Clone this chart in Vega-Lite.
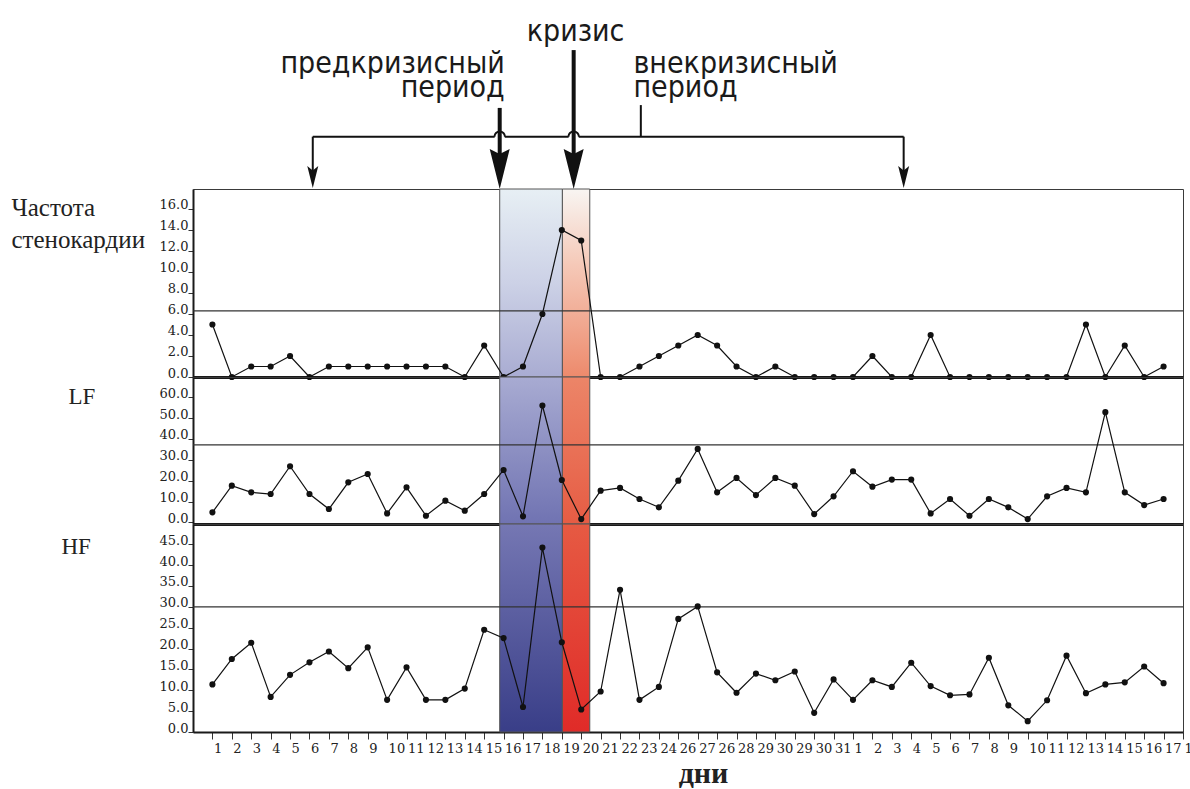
{
  "$schema": "https://vega.github.io/schema/vega-lite/v6.json",
  "background": "#ffffff",
  "padding": {"left": 10, "top": 0, "right": 0, "bottom": 0},
  "spacing": 0,
  "bounds": "flush",
  "config": {
    "view": {"stroke": "#3a3a3a", "strokeWidth": 1},
    "axis": {
      "grid": false,
      "labelFont": "DejaVu Serif",
      "labelFontSize": 13,
      "labelColor": "#222222",
      "labelOverlap": false,
      "labelFlush": false,
      "tickColor": "#333333",
      "tickWidth": 1,
      "domainColor": "#1a1a1a",
      "titleColor": "#222222",
      "zindex": 1
    }
  },
  "datasets": {
    "series": [
      {"i": 1, "chd": 5, "lf": 4.8, "hf": 11.4},
      {"i": 2, "chd": 0, "lf": 17.6, "hf": 17.5},
      {"i": 3, "chd": 1, "lf": 14.4, "hf": 21.4},
      {"i": 4, "chd": 1, "lf": 13.6, "hf": 8.4},
      {"i": 5, "chd": 2, "lf": 26.9, "hf": 13.7},
      {"i": 6, "chd": 0, "lf": 13.6, "hf": 16.7},
      {"i": 7, "chd": 1, "lf": 6.4, "hf": 19.3},
      {"i": 8, "chd": 1, "lf": 19.2, "hf": 15.3},
      {"i": 9, "chd": 1, "lf": 23.2, "hf": 20.3},
      {"i": 10, "chd": 1, "lf": 4.3, "hf": 7.7},
      {"i": 11, "chd": 1, "lf": 16.8, "hf": 15.5},
      {"i": 12, "chd": 1, "lf": 3.2, "hf": 7.7},
      {"i": 13, "chd": 1, "lf": 10.4, "hf": 7.7},
      {"i": 14, "chd": 0, "lf": 5.6, "hf": 10.4},
      {"i": 15, "chd": 3, "lf": 13.6, "hf": 24.5},
      {"i": 16, "chd": 0, "lf": 25.1, "hf": 22.5},
      {"i": 17, "chd": 1, "lf": 2.9, "hf": 6.0},
      {"i": 18, "chd": 6, "lf": 56.0, "hf": 44.2},
      {"i": 19, "chd": 14, "lf": 20.3, "hf": 21.5},
      {"i": 20, "chd": 13, "lf": 1.6, "hf": 5.4},
      {"i": 21, "chd": 0, "lf": 15.2, "hf": 9.7},
      {"i": 22, "chd": 0, "lf": 16.5, "hf": 34.1},
      {"i": 23, "chd": 1, "lf": 11.2, "hf": 7.7},
      {"i": 24, "chd": 2, "lf": 7.2, "hf": 10.8},
      {"i": 25, "chd": 3, "lf": 20.0, "hf": 27.1},
      {"i": 26, "chd": 4, "lf": 35.2, "hf": 30.1},
      {"i": 27, "chd": 3, "lf": 14.4, "hf": 14.3},
      {"i": 28, "chd": 1, "lf": 21.3, "hf": 9.4},
      {"i": 29, "chd": 0, "lf": 13.1, "hf": 14.0},
      {"i": 30, "chd": 1, "lf": 21.3, "hf": 12.4},
      {"i": 31, "chd": 0, "lf": 17.6, "hf": 14.5},
      {"i": 32, "chd": 0, "lf": 4.0, "hf": 4.6},
      {"i": 33, "chd": 0, "lf": 12.5, "hf": 12.6},
      {"i": 34, "chd": 0, "lf": 24.5, "hf": 7.7},
      {"i": 35, "chd": 2, "lf": 17.1, "hf": 12.4},
      {"i": 36, "chd": 0, "lf": 20.5, "hf": 10.8},
      {"i": 37, "chd": 0, "lf": 20.5, "hf": 16.6},
      {"i": 38, "chd": 4, "lf": 4.3, "hf": 11.0},
      {"i": 39, "chd": 0, "lf": 11.2, "hf": 8.8},
      {"i": 40, "chd": 0, "lf": 3.2, "hf": 9.0},
      {"i": 41, "chd": 0, "lf": 11.2, "hf": 17.8},
      {"i": 42, "chd": 0, "lf": 7.2, "hf": 6.4},
      {"i": 43, "chd": 0, "lf": 1.6, "hf": 2.6},
      {"i": 44, "chd": 0, "lf": 12.5, "hf": 7.6},
      {"i": 45, "chd": 0, "lf": 16.5, "hf": 18.3},
      {"i": 46, "chd": 5, "lf": 14.4, "hf": 9.3},
      {"i": 47, "chd": 0, "lf": 52.8, "hf": 11.4},
      {"i": 48, "chd": 3, "lf": 14.4, "hf": 11.9},
      {"i": 49, "chd": 0, "lf": 8.3, "hf": 15.7},
      {"i": 50, "chd": 1, "lf": 11.2, "hf": 11.7}
    ],
    "limits": [{"chd": 6.3, "lf": 37.1, "hf": 30.0}],
    "phases": [
      {"phase": "pre", "x0": 15.8, "x1": 19.03},
      {"phase": "crisis", "x0": 19.03, "x1": 20.44}
    ],
    "links": [
      {"part": "bracket", "x": 6.17, "x2": 15.54, "y": 27.7, "y2": 27.7},
      {"part": "bracket", "x": 16.06, "x2": 19.35, "y": 27.7, "y2": 27.7},
      {"part": "bracket", "x": 19.87, "x2": 36.61, "y": 27.7, "y2": 27.7},
      {"part": "bracket", "x": 6.17, "x2": 6.17, "y": 27.7, "y2": 9},
      {"part": "bracket", "x": 36.61, "x2": 36.61, "y": 27.7, "y2": 9},
      {"part": "bracket", "x": 23.07, "x2": 23.07, "y": 44.4, "y2": 27.7},
      {"part": "pointer", "x": 15.8, "x2": 15.8, "y": 42.9, "y2": 14},
      {"part": "pointer", "x": 19.61, "x2": 19.61, "y": 73.5, "y2": 14}
    ],
    "heads": [
      {"part": "bracket", "x": 6.17, "y": 6.3},
      {"part": "bracket", "x": 36.61, "y": 6.3},
      {"part": "pointer", "x": 15.8, "y": 10.6},
      {"part": "pointer", "x": 19.61, "y": 10.6}
    ],
    "hops": [
      {"x": 15.8, "y": 27.7},
      {"x": 19.61, "y": 27.7}
    ],
    "notes": [
      {"side": "crisis", "text": "кризис", "x": 19.71, "y": 78.5},
      {"side": "before", "text": "предкризисный", "x": 16.06, "y": 61.5},
      {"side": "before", "text": "период", "x": 16.06, "y": 48.5},
      {"side": "after", "text": "внекризисный", "x": 22.69, "y": 61.5},
      {"side": "after", "text": "период", "x": 22.69, "y": 48.5}
    ]
  },
  "vconcat": [
    {
      "width": 990,
      "height": 189,
      "view": {"stroke": null},
      "encoding": {
        "x": {"field": "x", "type": "quantitative", "scale": {"domain": [0, 51], "nice": false}, "axis": null},
        "y": {"field": "y", "type": "quantitative", "scale": {"domain": [0, 100], "nice": false}, "axis": null}
      },
      "layer": [
        {
          "data": {"name": "links"},
          "transform": [{"filter": "datum.part === 'bracket'"}],
          "mark": {"type": "rule", "color": "#111111", "strokeWidth": 2},
          "encoding": {"x2": {"field": "x2"}, "y2": {"field": "y2"}}
        },
        {
          "data": {"name": "links"},
          "transform": [{"filter": "datum.part === 'pointer'"}],
          "mark": {"type": "rule", "color": "#111111", "strokeWidth": 4},
          "encoding": {"x2": {"field": "x2"}, "y2": {"field": "y2"}}
        },
        {
          "data": {"name": "hops"},
          "mark": {"type": "point", "shape": "M-1,0A1,1,0,0,1,1,0", "filled": false, "size": 110, "color": "#111111", "strokeWidth": 2, "opacity": 1}
        },
        {
          "data": {"name": "heads"},
          "transform": [{"filter": "datum.part === 'bracket'"}],
          "mark": {"type": "point", "shape": "M0,1L-0.5,-1L0,-0.6L0.5,-1Z", "filled": true, "size": 484, "color": "#111111", "opacity": 1}
        },
        {
          "data": {"name": "heads"},
          "transform": [{"filter": "datum.part === 'pointer'"}],
          "mark": {"type": "point", "shape": "M0,1L-0.5,-1L0,-0.75L0.5,-1Z", "filled": true, "size": 1600, "color": "#111111", "opacity": 1}
        },
        {
          "data": {"name": "notes"},
          "transform": [{"filter": "datum.side === 'crisis'"}],
          "mark": {"type": "text", "align": "center", "baseline": "alphabetic", "font": "DejaVu Sans Condensed, DejaVu Sans, sans-serif", "fontSize": 30, "color": "#1a1a1a"},
          "encoding": {"text": {"field": "text"}}
        },
        {
          "data": {"name": "notes"},
          "transform": [{"filter": "datum.side === 'before'"}],
          "mark": {"type": "text", "align": "right", "baseline": "alphabetic", "font": "DejaVu Sans Condensed, DejaVu Sans, sans-serif", "fontSize": 30, "color": "#1a1a1a"},
          "encoding": {"text": {"field": "text"}}
        },
        {
          "data": {"name": "notes"},
          "transform": [{"filter": "datum.side === 'after'"}],
          "mark": {"type": "text", "align": "left", "baseline": "alphabetic", "font": "DejaVu Sans Condensed, DejaVu Sans, sans-serif", "fontSize": 30, "color": "#1a1a1a"},
          "encoding": {"text": {"field": "text"}}
        }
      ]
    },
    {
      "width": 990,
      "height": 188,
      "resolve": {"axis": {"x": "independent", "y": "independent"}},
      "layer": [
        {
          "data": {"name": "phases"},
          "transform": [{"filter": "datum.phase === 'pre'"}],
          "mark": {"type": "rect", "stroke": "#555555", "strokeWidth": 1,
            "fill": {"gradient": "linear", "x1": 0, "y1": 0, "x2": 0, "y2": 1, "stops": [
              {"offset": 0, "color": "#e7eff4"}, {"offset": 0.5, "color": "#ccd1e6"}, {"offset": 1, "color": "#a9acd2"}]}},
          "encoding": {
            "x": {"field": "x0", "type": "quantitative", "scale": {"domain": [0, 51], "nice": false}, "axis": null},
            "x2": {"field": "x1"}
          }
        },
        {
          "data": {"name": "phases"},
          "transform": [{"filter": "datum.phase === 'crisis'"}],
          "mark": {"type": "rect", "stroke": "#555555", "strokeWidth": 1,
            "fill": {"gradient": "linear", "x1": 0, "y1": 0, "x2": 0, "y2": 1, "stops": [
              {"offset": 0, "color": "#f8f5f2"}, {"offset": 0.4, "color": "#f5c9b8"}, {"offset": 1, "color": "#ed8a6c"}]}},
          "encoding": {
            "x": {"field": "x0", "type": "quantitative", "scale": {"domain": [0, 51], "nice": false}, "axis": null},
            "x2": {"field": "x1"}
          }
        },
        {
          "data": {"name": "limits"},
          "mark": {"type": "rule", "color": "#333333", "strokeWidth": 1.2},
          "encoding": {
            "y": {"field": "chd", "type": "quantitative", "scale": {"domain": [0, 17.9], "nice": false}, "axis": null}
          }
        },
        {
          "data": {"name": "series"},
          "mark": {"type": "line", "color": "#111111", "strokeWidth": 1.2},
          "encoding": {
            "x": {"field": "i", "type": "quantitative", "scale": {"domain": [0, 51], "nice": false},
              "axis": {"labels": false, "ticks": false, "title": null, "domainWidth": 3}},
            "y": {"field": "chd", "type": "quantitative", "scale": {"domain": [0, 17.9], "nice": false},
              "axis": {"values": [0, 2, 4, 6, 8, 10, 12, 14, 16], "format": ".1f", "labelOverlap": false, "labelFlush": false, "labelBaseline": "alphabetic", "labelPadding": 0, "tickSize": 5, "domainWidth": 2,
                "title": ["Частота", "стенокардии"], "titleAngle": 0, "titleAlign": "left", "titleBaseline": "alphabetic", "titleX": -182, "titleY": 26,
                "titleFont": "Liberation Serif", "titleFontSize": 25, "titleFontWeight": "normal", "titleLineHeight": 32}}
          }
        },
        {
          "data": {"name": "series"},
          "mark": {"type": "point", "filled": true, "color": "#111111", "size": 38, "opacity": 1},
          "encoding": {
            "x": {"field": "i", "type": "quantitative", "scale": {"domain": [0, 51], "nice": false}, "axis": null},
            "y": {"field": "chd", "type": "quantitative", "scale": {"domain": [0, 17.9], "nice": false}, "axis": null}
          }
        }
      ]
    },
    {
      "width": 990,
      "height": 147,
      "resolve": {"axis": {"x": "independent", "y": "independent"}},
      "layer": [
        {
          "data": {"name": "phases"},
          "transform": [{"filter": "datum.phase === 'pre'"}],
          "mark": {"type": "rect", "stroke": "#555555", "strokeWidth": 1,
            "fill": {"gradient": "linear", "x1": 0, "y1": 0, "x2": 0, "y2": 1, "stops": [
              {"offset": 0, "color": "#a8abd2"}, {"offset": 1, "color": "#7073b2"}]}},
          "encoding": {
            "x": {"field": "x0", "type": "quantitative", "scale": {"domain": [0, 51], "nice": false}, "axis": null},
            "x2": {"field": "x1"}
          }
        },
        {
          "data": {"name": "phases"},
          "transform": [{"filter": "datum.phase === 'crisis'"}],
          "mark": {"type": "rect", "stroke": "#555555", "strokeWidth": 1,
            "fill": {"gradient": "linear", "x1": 0, "y1": 0, "x2": 0, "y2": 1, "stops": [
              {"offset": 0, "color": "#ec8568"}, {"offset": 1, "color": "#e65c44"}]}},
          "encoding": {
            "x": {"field": "x0", "type": "quantitative", "scale": {"domain": [0, 51], "nice": false}, "axis": null},
            "x2": {"field": "x1"}
          }
        },
        {
          "data": {"name": "limits"},
          "mark": {"type": "rule", "color": "#333333", "strokeWidth": 1.2},
          "encoding": {
            "y": {"field": "lf", "type": "quantitative", "scale": {"domain": [-0.77, 69.65], "nice": false, "zero": false}, "axis": null}
          }
        },
        {
          "data": {"name": "series"},
          "mark": {"type": "line", "color": "#111111", "strokeWidth": 1.2},
          "encoding": {
            "x": {"field": "i", "type": "quantitative", "scale": {"domain": [0, 51], "nice": false},
              "axis": {"labels": false, "ticks": false, "title": null, "domainWidth": 3}},
            "y": {"field": "lf", "type": "quantitative", "scale": {"domain": [-0.77, 69.65], "nice": false, "zero": false},
              "axis": {"values": [0, 10, 20, 30, 40, 50, 60], "format": ".1f", "labelOverlap": false, "labelFlush": false, "labelBaseline": "alphabetic", "labelPadding": 0, "tickSize": 5, "domainWidth": 2,
                "title": "LF", "titleAngle": 0, "titleAlign": "left", "titleBaseline": "alphabetic", "titleX": -125, "titleY": 26,
                "titleFont": "Liberation Serif", "titleFontSize": 23, "titleFontWeight": "normal"}}
          }
        },
        {
          "data": {"name": "series"},
          "mark": {"type": "point", "filled": true, "color": "#111111", "size": 38, "opacity": 1},
          "encoding": {
            "x": {"field": "i", "type": "quantitative", "scale": {"domain": [0, 51], "nice": false}, "axis": null},
            "y": {"field": "lf", "type": "quantitative", "scale": {"domain": [-0.77, 69.65], "nice": false, "zero": false}, "axis": null}
          }
        }
      ]
    },
    {
      "width": 990,
      "height": 208,
      "resolve": {"axis": {"x": "independent", "y": "independent"}},
      "layer": [
        {
          "data": {"name": "phases"},
          "transform": [{"filter": "datum.phase === 'pre'"}],
          "mark": {"type": "rect", "stroke": "#555555", "strokeWidth": 1,
            "fill": {"gradient": "linear", "x1": 0, "y1": 0, "x2": 0, "y2": 1, "stops": [
              {"offset": 0, "color": "#7577b3"}, {"offset": 1, "color": "#393e88"}]}},
          "encoding": {
            "x": {"field": "x0", "type": "quantitative", "scale": {"domain": [0, 51], "nice": false}, "axis": null},
            "x2": {"field": "x1"}
          }
        },
        {
          "data": {"name": "phases"},
          "transform": [{"filter": "datum.phase === 'crisis'"}],
          "mark": {"type": "rect", "stroke": "#555555", "strokeWidth": 1,
            "fill": {"gradient": "linear", "x1": 0, "y1": 0, "x2": 0, "y2": 1, "stops": [
              {"offset": 0, "color": "#e65a43"}, {"offset": 1, "color": "#e02b28"}]}},
          "encoding": {
            "x": {"field": "x0", "type": "quantitative", "scale": {"domain": [0, 51], "nice": false}, "axis": null},
            "x2": {"field": "x1"}
          }
        },
        {
          "data": {"name": "limits"},
          "mark": {"type": "rule", "color": "#333333", "strokeWidth": 1.2},
          "encoding": {
            "y": {"field": "hf", "type": "quantitative", "scale": {"domain": [0, 49.85], "nice": false}, "axis": null}
          }
        },
        {
          "data": {"name": "series"},
          "mark": {"type": "line", "color": "#111111", "strokeWidth": 1.2},
          "encoding": {
            "x": {"field": "i", "type": "quantitative", "scale": {"domain": [0, 51], "nice": false},
              "axis": {
                "values": [1, 2, 3, 4, 5, 6, 7, 8, 9, 10, 11, 12, 13, 14, 15, 16, 17, 18, 19, 20, 21, 22, 23, 24, 25, 26, 27, 28, 29, 30, 31, 32, 33, 34, 35, 36, 37, 38, 39, 40, 41, 42, 43, 44, 45, 46, 47, 48, 49, 50, 51],
                "labelExpr": "['1','2','3','4','5','6','7','8','9','10','11','12','13','14','15','16','17','18','19','20','21','22','23','24','26','27','26','28','29','30','29','30','31','1','2','3','4','5','6','7','8','9','10','11','12','13','14','15','16','17','18'][datum.value - 1]",
                "labelOverlap": false, "labelFlush": false, "labelBound": false,
                "labelAlign": "left", "labelOffset": 1, "labelPadding": 3, "tickSize": 7, "domainWidth": 2,
                "title": "дни", "titleFont": "Liberation Serif", "titleFontSize": 30, "titleFontWeight": "bold",
                "titleAlign": "center", "titleBaseline": "alphabetic", "titleX": 510, "titleY": 50}},
            "y": {"field": "hf", "type": "quantitative", "scale": {"domain": [0, 49.85], "nice": false},
              "axis": {"values": [0, 5, 10, 15, 20, 25, 30, 35, 40, 45], "format": ".1f", "labelOverlap": false, "labelFlush": false, "labelBaseline": "alphabetic", "labelPadding": 0, "tickSize": 5, "domainWidth": 2,
                "title": "HF", "titleAngle": 0, "titleAlign": "left", "titleBaseline": "alphabetic", "titleX": -132, "titleY": 29,
                "titleFont": "Liberation Serif", "titleFontSize": 23, "titleFontWeight": "normal"}}
          }
        },
        {
          "data": {"name": "series"},
          "mark": {"type": "point", "filled": true, "color": "#111111", "size": 38, "opacity": 1},
          "encoding": {
            "x": {"field": "i", "type": "quantitative", "scale": {"domain": [0, 51], "nice": false}, "axis": null},
            "y": {"field": "hf", "type": "quantitative", "scale": {"domain": [0, 49.85], "nice": false}, "axis": null}
          }
        }
      ]
    }
  ]
}
